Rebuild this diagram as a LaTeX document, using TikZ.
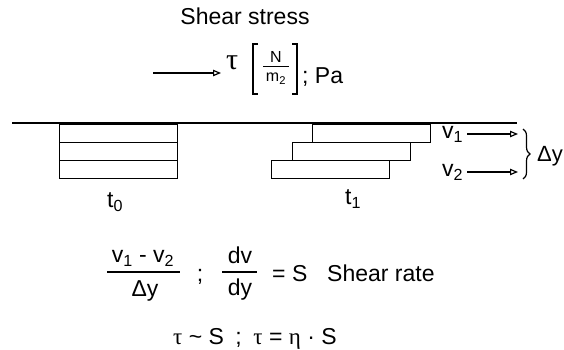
\documentclass[tikz,border=0pt]{standalone}
\usepackage{fontspec}
\setmainfont{Liberation Sans}
\newfontfamily\grk{Liberation Serif}
\usetikzlibrary{arrows.meta,decorations.pathreplacing}
\begin{document}
\begin{tikzpicture}[x=1pt,y=1pt,
  lbl/.style={inner sep=0pt, font=\fontsize{23}{26}\selectfont},
  small/.style={inner sep=0pt, font=\fontsize{16}{18}\selectfont},
  plate/.style={draw, line width=1.4pt, inner sep=0pt, minimum width=118pt, minimum height=18pt, anchor=south west},
  arr/.style={line width=1.3pt, -{Triangle[open,length=8pt,width=6.5pt,line width=1.2pt]}},
  fracline/.style={line width=1.3pt},
  brk/.style={line width=1.8pt}]
\useasboundingbox (0,0) rectangle (564,350);
% title
\node[lbl, anchor=base] (title) at (245,325) {Shear stress};
\coordinate (sa) at (153,277);
\coordinate (sb) at (221,277);
\draw[arr] (sa) -- (sb);
\node[inner sep=0pt, anchor=base west, font=\fontsize{30}{32}\selectfont\grk] (tau) at (226,280) {τ};
\draw[brk] (258,306) -- (253,306) -- (253,256) -- (258,256);
\draw[brk] (292,306) -- (297,306) -- (297,256) -- (292,256);
\node[small, anchor=base] (N) at (276,287) {N};
\draw[line width=1pt] (263,283) -- (289,283);
\node[small, anchor=base] (m) at (276,268) {m\textsubscript{2}};
\node[lbl, anchor=base west] (pa) at (302,266) {; Pa};
% top line
\coordinate (la) at (12,227);
\coordinate (lb) at (517,227);
\draw[line width=1.4pt] (la) -- (lb);
% plates t0
\node[plate] (p01) at (59,207) {};
\node[plate] (p02) at (59,189) {};
\node[plate] (p03) at (59,171) {};
% plates t1
\node[plate] (p11) at (312,207) {};
\node[plate] (p12) at (292,189) {};
\node[plate] (p13) at (271,171) {};
\node[lbl, anchor=base west] (t0) at (107,142) {t\textsubscript{0}};
\node[lbl, anchor=base west] (t1) at (345,145) {t\textsubscript{1}};
% velocities
\node[lbl, anchor=base west] (v1) at (442,211) {v\textsubscript{1}};
\coordinate (v1a) at (467,216);
\coordinate (v1b) at (518,216);
\draw[arr] (v1a) -- (v1b);
\node[lbl, anchor=base west] (v2) at (442,173) {v\textsubscript{2}};
\coordinate (v2a) at (467,178);
\coordinate (v2b) at (518,178);
\draw[arr] (v2a) -- (v2b);
\coordinate (bt) at (523,221);
\coordinate (bb) at (523,171);
\draw[decorate, decoration={brace, amplitude=7pt}, line width=1.2pt] (bt) -- (bb);
\node[inner sep=0pt, font=\fontsize{22}{24}\selectfont, anchor=base east] (deltay) at (563,188) {Δy};
% shear rate formula
\node[lbl, anchor=base] (num) at (143,87) {v\textsubscript{1} - v\textsubscript{2}};
\draw[fracline] (107,78) -- (180,78);
\node[lbl, anchor=base] (den) at (145,53) {Δy};
\node[lbl, anchor=base] (semi) at (200,68) {;};
\node[lbl, anchor=base] (dv) at (240,86) {dv};
\draw[fracline] (222,78) -- (257,78);
\node[lbl, anchor=base] (dyy) at (240,54) {dy};
\node[lbl, anchor=base west] (eqs) at (272,68) {= S};
\node[lbl, anchor=base west] (sr) at (327,68) {Shear rate};
\node[lbl, anchor=base west] (law) at (173,5) {{\grk τ} \textasciitilde{} S\enspace;\enspace {\grk τ} = {\grk η} · S};
\end{tikzpicture}
\end{document}
